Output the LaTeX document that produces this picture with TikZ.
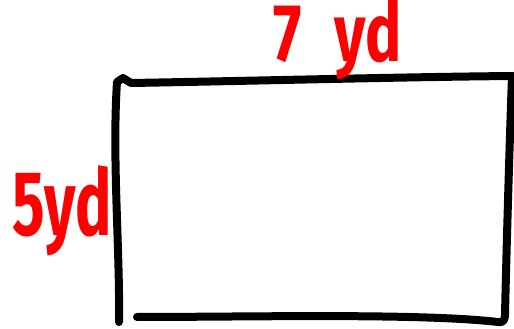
\documentclass[tikz,border=0pt]{standalone}
\usepackage{fontspec}
\setmainfont{Fira Sans}
\begin{document}
\begin{tikzpicture}[x=1pt,y=1pt,
  edge/.style={line width=8pt,line cap=round,line join=round,black},
  lbl/.style={text=red,font=\fontsize{92}{92}\selectfont\bfseries,inner sep=0pt,xscale=0.66,transform shape},
  toplbl/.style={lbl,font=\fontsize{82}{82}\selectfont\bfseries,xscale=1.12}]
\useasboundingbox (0,0) rectangle (514,329);
% hand-drawn rectangle
\draw[edge] (119,7) .. controls (120,80) and (112,170) .. (117,247)
  -- (123,251) -- (131,246) .. controls (250,248) and (400,252) .. (513,253);
\draw[edge] (512,253) .. controls (509,170) and (506,60) .. (505,14)
  .. controls (505,8) and (502,6) .. (498,7)
  .. controls (420,16) and (250,12) .. (137,12);
% labels
\node[toplbl] (top) at (338,290) {7\hspace{0.3em} yd};
\node[lbl] (side) at (62,118) {5yd};
\end{tikzpicture}
\end{document}
